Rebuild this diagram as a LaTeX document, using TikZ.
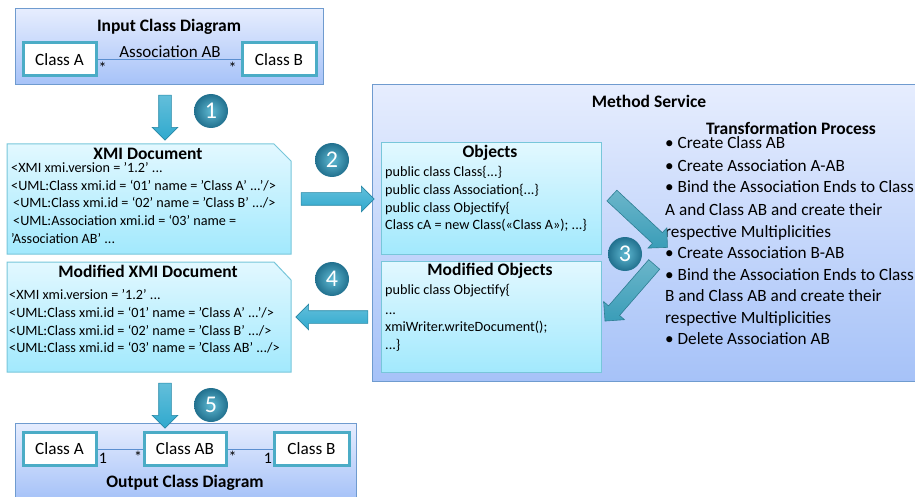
\documentclass[tikz,border=0pt]{standalone}
\usepackage{fontspec}
\setmainfont{Carlito}
\usetikzlibrary{shapes.arrows}
\definecolor{panelTop}{HTML}{E6EDFE}
\definecolor{panelBot}{HTML}{A6C2F8}
\definecolor{panelLine}{HTML}{6F9BCF}
\definecolor{docTop}{HTML}{E2F8FF}
\definecolor{docBot}{HTML}{A2E9FD}
\definecolor{docLine}{HTML}{78C6DA}
\definecolor{classLine}{HTML}{4BACC6}
\definecolor{assocLine}{HTML}{5B8FD0}
\definecolor{arrowBlue}{HTML}{2FA9CE}
\definecolor{arrowTeal}{HTML}{3A9DB8}
\definecolor{ballIn}{HTML}{5FB9D2}
\definecolor{ballOut}{HTML}{21708E}
\tikzset{
    panel/.style={draw=panelLine, line width=1pt, top color=panelTop, bottom color=panelBot, minimum width=#1},
    docshape/.style={draw=docLine, line width=1pt, top color=docTop, bottom color=docBot},
    objbox/.style={draw=docLine, line width=1pt, top color=docTop, bottom color=docBot, minimum width=220pt, minimum height=111pt},
    classbox/.style={draw=classLine, line width=3pt, fill=white, minimum height=33pt, font=\fontsize{17.2}{19}\selectfont, inner sep=0pt},
    assoc/.style={draw=assocLine, line width=0.9pt},
    bigarrow/.style={single arrow, single arrow head extend=6.5pt, single arrow head indent=0pt, text height=12pt, text depth=0pt, inner sep=0pt, draw=#1!80!black, line width=0.6pt, top color=#1!75!white, bottom color=#1},
    bigarrow/.default=arrowBlue,
    stepball/.style={circle, minimum size=34pt, inner sep=0pt, inner color=ballIn, outer color=ballOut, text=white, font=\fontsize{24}{26}\selectfont},
    titletext/.style={font=\fontsize{17.5}{19}\selectfont\bfseries, inner sep=0pt},
    codeline/.style={anchor=west, font=\fontsize{14.2}{16}\selectfont, text height=10pt, text depth=3pt, inner sep=0pt},
    stepline/.style={anchor=west, font=\fontsize{17.2}{19}\selectfont, text height=9pt, text depth=3pt, inner sep=0pt},
    mult/.style={font=\fontsize{16}{18}\selectfont, inner sep=0pt}
}
\begin{document}
\begin{tikzpicture}[x=1pt, y=-1pt]
    \useasboundingbox (0,0) rectangle (915,497);
    % - Input class diagram
    \node[panel=308pt, minimum height=76pt] (inputPanel) at (169,47){};
    \node[titletext] (inputTitle) at (169,27){Input Class Diagram};
    \node[classbox, minimum width=73pt] (inClassA) at (59.5,59.5){Class A};
    \node[classbox, minimum width=74pt] (inClassB) at (279,59.5){Class B};
    \draw[assoc] (inClassA)--(inClassB);
    \node[font=\fontsize{17}{19}\selectfont, inner sep=0pt] (assocAB) at (170,52){Association AB};
    \node[mult] (inStarA) at (102.5,68){*};
    \node[mult] (inStarB) at (232.5,68){*};
    % - Method service
    \node[panel=546pt, minimum height=296pt] (methodPanel) at (645,233){};
    \node[titletext] (methodTitle) at (649,101){Method Service};
    % - XMI documents
    \draw[docshape] (7,144)--(274,144)--(291,161)--(291,254)--(7,254)--cycle;
    \node[titletext] (xmiTitle) at (148,153.5){XMI Document};
    \node[codeline] (xmiA) at (11,169){<XMI xmi.version = '1.2’ ...};
    \node[codeline] (xmiB) at (11,187){<UML:Class xmi.id = ‘01' name = 'Class A' ...'/>};
    \node[codeline] (xmiC) at (13,204){<UML:Class xmi.id = ‘02' name = 'Class B' .../>};
    \node[codeline] (xmiD) at (13,222){<UML:Association xmi.id = ‘03' name =};
    \node[codeline] (xmiE) at (11,240){'Association AB’ ...};
    \draw[docshape] (7,262)--(274,262)--(291,280)--(291,372)--(7,372)--cycle;
    \node[titletext] (modTitle) at (148,271.5){Modified XMI Document};
    \node[codeline] (modA) at (9,296){<XMI xmi.version = '1.2’ ...};
    \node[codeline] (modB) at (9,314){<UML:Class xmi.id = ‘01' name = 'Class A' ...'/>};
    \node[codeline] (modC) at (9,332){<UML:Class xmi.id = ‘02' name = 'Class B' .../>};
    \node[codeline] (modD) at (9,349){<UML:Class xmi.id = ‘03' name = 'Class AB' .../>};
    % - Objects
    \node[objbox] (objBox) at (491,198.5){};
    \node[titletext] (objTitle) at (490,153){Objects};
    \node[codeline] (objA) at (385,173){public class Class\{...\}};
    \node[codeline] (objB) at (385,191){public class Association\{...\}};
    \node[codeline] (objC) at (385,209){public class Objectify\{};
    \node[codeline] (objD) at (385,226){Class cA = new Class(«Class A»); ...\}};
    \node[objbox] (modObjBox) at (491,317){};
    \node[titletext] (modObjTitle) at (490,271){Modified Objects};
    \node[codeline] (modObjA) at (385,291){public class Objectify\{};
    \node[codeline] (modObjB) at (385,311){...};
    \node[codeline] (modObjC) at (385,328){xmiWriter.writeDocument();};
    \node[codeline] (modObjD) at (385,346){...\}};
    % - Transformation steps
    \node[titletext] (transTitle) at (791,128){Transformation Process};
    \node[stepline] (stepA) at (665,146){• Create Class AB};
    \node[stepline] (stepB) at (665,169){• Create Association A-AB};
    \node[stepline] (stepC) at (665,190){• Bind the Association Ends to Class};
    \node[stepline] (stepD) at (665,212){A and Class AB and create their};
    \node[stepline] (stepE) at (665,234){respective Multiplicities};
    \node[stepline] (stepF) at (665,255){• Create Association B-AB};
    \node[stepline] (stepG) at (665,277){• Bind the Association Ends to Class};
    \node[stepline] (stepH) at (665,298){B and Class AB and create their};
    \node[stepline] (stepI) at (665,320){respective Multiplicities};
    \node[stepline] (stepJ) at (665,341){• Delete Association AB};
    % - Output class diagram
    \node[panel=341pt, minimum height=76pt] (outputPanel) at (185.5,461){};
    \node[titletext] (outputTitle) at (185,482.5){Output Class Diagram};
    \node[classbox, minimum width=73pt] (outClassA) at (59.5,449){Class A};
    \node[classbox, minimum width=82pt] (outClassAB) at (185,449){Class AB};
    \node[classbox, minimum width=75pt] (outClassB) at (311.5,449){Class B};
    \draw[assoc] (outClassA)--(outClassAB);
    \draw[assoc] (outClassAB)--(outClassB);
    \node[mult] (outOneA) at (103,458){1};
    \node[mult] (outStarA) at (138,457){*};
    \node[mult] (outStarB) at (232.5,457){*};
    \node[mult] (outOneB) at (268,458){1};
    % - Block arrows
    \node[bigarrow, minimum height=45pt, rotate=-90] (arrowOne) at (165,114.5){};
    \node[bigarrow, minimum height=73pt] (arrowTwo) at (334.5,199){};
    \node[bigarrow=arrowTeal, text height=14pt, minimum height=76pt, rotate=-43] (arrowThreeA) at (637,219){};
    \node[bigarrow=arrowTeal, text height=14pt, minimum height=75pt, rotate=-131] (arrowThreeB) at (632,290){};
    \node[bigarrow, minimum height=72pt, rotate=180] (arrowFour) at (335,317){};
    \node[bigarrow, minimum height=45pt, rotate=-90] (arrowFive) at (165,402.5){};
    % - Step numbers
    \node[stepball] (ballOne) at (211,111){1};
    \node[stepball] (ballTwo) at (332,160){2};
    \node[stepball] (ballThree) at (625,254){3};
    \node[stepball] (ballFour) at (332,279){4};
    \node[stepball] (ballFive) at (211,405){5};
\end{tikzpicture}
\end{document}
